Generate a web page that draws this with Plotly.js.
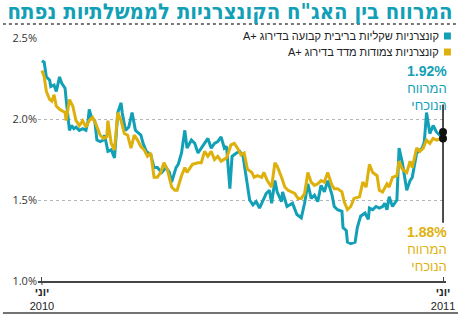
<!DOCTYPE html>
<html><head><meta charset="utf-8">
<script src="https://cdn.plot.ly/plotly-3.0.1.min.js"></script>
<style>html,body{margin:0;padding:0;background:#fff}#chart{width:458px;height:327px}</style>
</head><body><div id="chart"></div>
<script>
const titleText = 'המרווח בין האג"ח הקונצרניות לממשלתיות נפתח';
const seriesNames = ['קונצרניות שקליות בריבית קבועה בדירוג +A', 'קונצרניות צמודות מדד בדירוג +A'];
const currentLabel = ['המרווח', 'הנוכחי'];
const xTickVals = ['2010-06-01', '2011-06-01'];
const xTickText = ['<b>יוני</b><br>2010', '<b>יוני</b><br>2011'];
const yTickVals = [1.0, 1.5, 2.0, 2.5];
const yTickText = ['1.0%', '1.5%', '2.0%', '2.5%'];

const shekelDates = ['2010-06-01','2010-06-03','2010-06-05','2010-06-08','2010-06-09','2010-06-12','2010-06-14','2010-06-17','2010-06-19','2010-06-22','2010-06-23','2010-06-26','2010-06-28','2010-06-30','2010-07-02','2010-07-05','2010-07-08','2010-07-11','2010-07-13','2010-07-14','2010-07-16','2010-07-19','2010-07-21','2010-07-24','2010-07-27','2010-07-28','2010-07-31','2010-08-03','2010-08-06','2010-08-09','2010-08-12','2010-08-13','2010-08-16','2010-08-19','2010-08-22','2010-08-25','2010-08-30','2010-09-01','2010-09-04','2010-09-08','2010-09-11','2010-09-14','2010-09-18','2010-09-22','2010-09-25','2010-09-27','2010-10-01','2010-10-03','2010-10-06','2010-10-09','2010-10-11','2010-10-15','2010-10-18','2010-10-21','2010-10-24','2010-10-27','2010-10-30','2010-11-02','2010-11-05','2010-11-08','2010-11-11','2010-11-14','2010-11-16','2010-11-19','2010-11-21','2010-11-25','2010-11-28','2010-12-01','2010-12-04','2010-12-07','2010-12-10','2010-12-13','2010-12-16','2010-12-19','2010-12-22','2010-12-25','2010-12-27','2010-12-30','2011-01-01','2011-01-05','2011-01-06','2011-01-10','2011-01-12','2011-01-15','2011-01-19','2011-01-21','2011-01-23','2011-01-26','2011-01-29','2011-02-01','2011-02-04','2011-02-07','2011-02-10','2011-02-13','2011-02-16','2011-02-20','2011-02-22','2011-02-25','2011-03-01','2011-03-02','2011-03-05','2011-03-06','2011-03-09','2011-03-13','2011-03-15','2011-03-18','2011-03-22','2011-03-25','2011-03-26','2011-03-29','2011-04-01','2011-04-04','2011-04-07','2011-04-09','2011-04-11','2011-04-13','2011-04-16','2011-04-20','2011-04-22','2011-04-25','2011-04-29','2011-05-02','2011-05-04','2011-05-08','2011-05-13','2011-05-15','2011-05-17','2011-05-20','2011-05-23','2011-05-26','2011-05-29','2011-05-31'];
const shekelSpread = [2.36,2.35,2.26,2.24,2.20,2.21,2.17,2.26,2.22,2.19,2.12,1.93,1.96,1.94,1.95,1.93,1.94,1.93,1.99,2.06,2.01,1.99,1.87,1.86,1.87,1.90,1.80,1.81,1.76,2.04,2.10,2.04,1.93,1.95,2.04,1.93,1.90,1.85,1.80,1.78,1.70,1.70,1.67,1.70,1.67,1.61,1.70,1.72,1.79,1.93,1.82,1.87,1.85,1.79,1.82,1.85,1.88,1.82,1.85,1.86,1.89,1.82,1.83,1.57,1.77,1.79,1.80,1.77,1.64,1.50,1.47,1.49,1.45,1.50,1.54,1.56,1.48,1.62,1.55,1.49,1.55,1.46,1.47,1.48,1.41,1.40,1.39,1.48,1.60,1.51,1.53,1.49,1.59,1.55,1.62,1.53,1.46,1.44,1.43,1.33,1.31,1.24,1.23,1.24,1.33,1.40,1.42,1.38,1.45,1.44,1.46,1.45,1.46,1.48,1.44,1.52,1.46,1.50,1.82,1.73,1.56,1.62,1.64,1.79,1.82,1.86,2.04,1.91,1.96,1.92,1.90,1.92];

const cpiDates = ['2010-06-01','2010-06-03','2010-06-05','2010-06-08','2010-06-10','2010-06-12','2010-06-14','2010-06-17','2010-06-22','2010-06-23','2010-06-26','2010-06-29','2010-07-02','2010-07-05','2010-07-08','2010-07-11','2010-07-14','2010-07-17','2010-07-20','2010-07-24','2010-07-27','2010-07-30','2010-07-31','2010-08-03','2010-08-06','2010-08-09','2010-08-12','2010-08-15','2010-08-18','2010-08-21','2010-08-24','2010-08-27','2010-08-30','2010-09-02','2010-09-05','2010-09-08','2010-09-11','2010-09-14','2010-09-17','2010-09-20','2010-09-23','2010-09-27','2010-09-30','2010-10-02','2010-10-06','2010-10-09','2010-10-11','2010-10-16','2010-10-21','2010-10-24','2010-10-27','2010-10-30','2010-11-02','2010-11-05','2010-11-08','2010-11-11','2010-11-16','2010-11-20','2010-11-23','2010-11-26','2010-11-29','2010-12-02','2010-12-05','2010-12-09','2010-12-11','2010-12-14','2010-12-18','2010-12-20','2010-12-23','2010-12-27','2010-12-30','2011-01-01','2011-01-05','2011-01-08','2011-01-11','2011-01-14','2011-01-17','2011-01-20','2011-01-23','2011-01-26','2011-01-29','2011-02-01','2011-02-04','2011-02-07','2011-02-10','2011-02-13','2011-02-16','2011-02-20','2011-02-22','2011-02-25','2011-03-01','2011-03-03','2011-03-06','2011-03-09','2011-03-12','2011-03-17','2011-03-20','2011-03-23','2011-03-26','2011-03-29','2011-04-02','2011-04-04','2011-04-07','2011-04-11','2011-04-13','2011-04-16','2011-04-20','2011-04-22','2011-04-25','2011-04-29','2011-05-02','2011-05-04','2011-05-08','2011-05-11','2011-05-14','2011-05-17','2011-05-20','2011-05-23','2011-05-26','2011-05-31'];
const cpiSpread = [2.30,2.26,2.17,2.12,2.11,2.15,2.08,2.06,2.04,1.99,2.12,2.08,1.99,1.96,1.99,1.95,1.99,2.01,1.97,1.90,1.88,1.89,1.99,1.85,1.81,2.04,1.99,1.91,1.90,1.82,1.90,1.87,1.83,1.81,1.77,1.79,1.64,1.64,1.67,1.73,1.69,1.58,1.56,1.56,1.65,1.70,1.67,1.72,1.73,1.73,1.80,1.77,1.80,1.75,1.77,1.74,1.76,1.84,1.85,1.82,1.78,1.79,1.69,1.67,1.64,1.65,1.64,1.67,1.62,1.58,1.73,1.71,1.64,1.58,1.56,1.55,1.54,1.51,1.51,1.54,1.67,1.61,1.59,1.60,1.62,1.61,1.67,1.59,1.57,1.57,1.55,1.49,1.44,1.46,1.51,1.52,1.61,1.58,1.72,1.67,1.65,1.56,1.55,1.60,1.58,1.64,1.65,1.74,1.69,1.67,1.74,1.70,1.82,1.80,1.82,1.87,1.85,1.88,1.87,1.88];

const TEAL = '#12a0b6', GOLD = '#deb00b';
const HEB = '"Liberation Sans", "DejaVu Sans", sans-serif';
const HEB_TITLE = '"DejaVu Sans Condensed", "DejaVu Sans", sans-serif';
const rtl = s => '\u2067' + s + '\u2069';

const lastS = shekelSpread[shekelSpread.length - 1];
const lastC = cpiSpread[cpiSpread.length - 1];
const endDate = xTickVals[1];

// paper-y from a pixel row (plot top 38, height 243)
const py = p => (281 - p) / 243;

const traces = [
  {x: shekelDates, y: shekelSpread, type: 'scatter', mode: 'lines', name: seriesNames[0],
   line: {color: TEAL, width: 3}},
  {x: cpiDates, y: cpiSpread, type: 'scatter', mode: 'lines', name: seriesNames[1],
   line: {color: GOLD, width: 3}},
  {x: [endDate, endDate], y: [lastS, lastC], type: 'scatter', mode: 'markers',
   marker: {color: '#111', size: 8}, cliponaxis: false}
];

function labelBlock(value, color, topPx) {
  return {xref: 'paper', yref: 'paper', x: 1.005, y: py(topPx), xanchor: 'right', yanchor: 'top', showarrow: false,
     align: 'right', borderpad: 0,
     text: '<span style="font-size:14px"><b>' + value.toFixed(2) + '%</b></span><br>' + currentLabel.join('<br>'),
     font: {family: HEB, size: 13, color: color}};
}

const TITLE_SIZE = 24;
const layout = {
  width: 458, height: 327,
  margin: {l: 38, r: 12, t: 38, b: 46},
  paper_bgcolor: '#fff', plot_bgcolor: '#fff',
  showlegend: false, hovermode: false,
  title: {text: '<b>' + titleText + '</b>', x: 0.988, xanchor: 'right', xref: 'container', y: 0.99, yanchor: 'top',
          font: {family: HEB_TITLE, size: TITLE_SIZE, color: TEAL}},
  xaxis: {type: 'date', range: ['2010-05-28 09:00', '2011-06-03 17:00'],
          tickvals: xTickVals, ticktext: xTickText, showgrid: false,
          showline: true, linecolor: '#444', linewidth: 1.5,
          ticks: 'inside', ticklen: 4, tickcolor: '#444', tickwidth: 1,
          tickfont: {family: HEB, size: 11, color: '#222'}, zeroline: false, fixedrange: true},
  yaxis: {range: [1.0, 2.5], tickvals: yTickVals, ticktext: yTickText,
          showgrid: true, gridcolor: '#b5b5b5', griddash: 'dot', gridwidth: 1,
          zeroline: false, showline: false, ticks: '',
          tickfont: {family: '"Open Sans", sans-serif', size: 11, color: '#333'}, fixedrange: true},
  shapes: [
    {type: 'line', xref: 'paper', yref: 'paper', x0: -0.086, x1: 1.025, y0: py(24), y1: py(24),
     line: {color: '#777', width: 2, dash: 'dot'}},
    {type: 'line', xref: 'paper', yref: 'paper', x0: -0.086, x1: 1.03, y0: py(313), y1: py(313),
     line: {color: '#444', width: 1.5}},
    {type: 'rect', xref: 'paper', yref: 'paper', x0: 0.995, x1: 1.012, y0: py(39.5), y1: py(32.5),
     fillcolor: TEAL, line: {width: 0}},
    {type: 'rect', xref: 'paper', yref: 'paper', x0: 0.995, x1: 1.012, y0: py(55.5), y1: py(48.5),
     fillcolor: GOLD, line: {width: 0}},
    {type: 'line', xref: 'x', yref: 'y', x0: endDate, x1: endDate, y0: 1.36, y1: 2.09,
     line: {color: '#111', width: 1.5}},
    {type: 'line', xref: 'x', yref: 'paper', x0: xTickVals[0], x1: xTickVals[0], y0: 0, y1: py(285),
     line: {color: '#444', width: 1}}
  ],
  annotations: [
    {xref: 'paper', yref: 'paper', x: 0.9877, y: py(36), xanchor: 'right', yanchor: 'middle', showarrow: false,
     text: rtl(seriesNames[0]), font: {family: HEB, size: 11, color: '#222'}},
    {xref: 'paper', yref: 'paper', x: 0.9877, y: py(52), xanchor: 'right', yanchor: 'middle', showarrow: false,
     text: rtl(seriesNames[1]), font: {family: HEB, size: 11, color: '#222'}},
    labelBlock(lastS, TEAL, 62),
    labelBlock(lastC, GOLD, 223)
  ]
};

Plotly.newPlot('chart', traces, layout, {displayModeBar: false, staticPlot: true}).then(gd => {
  // fit the title into the available width (reference spans ~447px)
  const t = gd.querySelector('.gtitle');
  if (t) {
    const w = t.getBBox().width;
    const target = 446;
    if (w > target) {
      const size = Math.floor(TITLE_SIZE * target / w * 10) / 10;
      return Plotly.relayout(gd, {'title.font.size': size});
    }
  }
});
</script>
</body></html>
